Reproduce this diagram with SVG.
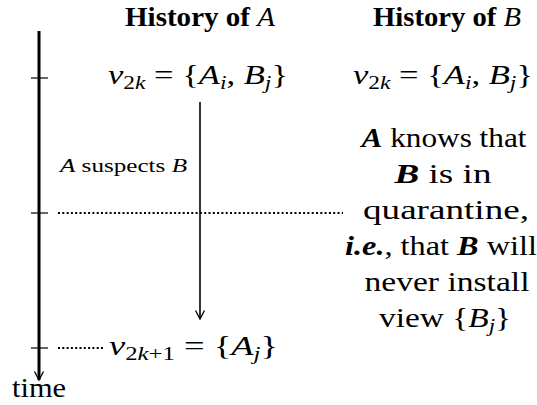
<svg xmlns="http://www.w3.org/2000/svg" width="537" height="405" viewBox="0 0 537 405">
<style>
text{font-family:"Liberation Serif","Times New Roman",serif;fill:#000}
.t{font-size:28px}
.h{font-size:27px;font-weight:bold}
.s{font-size:19px}
.i{font-style:italic}
.bi{font-style:italic;font-weight:bold}
.sm{font-size:18px}
.axis{stroke:#000;stroke-width:3;fill:none}
.tick{stroke:#000;stroke-width:1.2}
.arr{stroke:#000;stroke-width:1.6;fill:none}
.dot{stroke:#000;stroke-width:2;stroke-dasharray:2 2.3;fill:none}
</style>
<defs>
<marker id="open" markerWidth="12" markerHeight="12" refX="9" refY="5" orient="auto" markerUnits="userSpaceOnUse" viewBox="0 0 12 10">
<path d="M0.5,0.5 L9,5 L0.5,9.5" fill="none" stroke="#000" stroke-width="1.3"/>
</marker>
</defs>
<g id="headers">
<text class="h" x="200" y="26" text-anchor="middle" textLength="150" lengthAdjust="spacingAndGlyphs">History of <tspan class="i" font-weight="normal">A</tspan></text>
<text class="h" x="447" y="26" text-anchor="middle" textLength="148" lengthAdjust="spacingAndGlyphs">History of <tspan class="i" font-weight="normal">B</tspan></text>
</g>
<g id="timeline">
<line class="axis" x1="39" y1="31" x2="39" y2="380" marker-end="url(#open)"/>
<line class="tick" x1="31" y1="78" x2="48" y2="78"/>
<line class="tick" x1="31" y1="213" x2="48" y2="213"/>
<line class="tick" x1="31" y1="348" x2="48" y2="348"/>
<text class="t" x="12" y="397" textLength="54" lengthAdjust="spacingAndGlyphs">time</text>
</g>
<g id="nodeA1">
<text class="t" x="108" y="84" textLength="180" lengthAdjust="spacingAndGlyphs"><tspan class="i">v</tspan><tspan class="s" dy="5">2<tspan class="i">k</tspan></tspan><tspan dy="-5"> = {</tspan><tspan class="i">A</tspan><tspan class="s i" dy="5">i</tspan><tspan dy="-5">, </tspan><tspan class="i">B</tspan><tspan class="s i" dy="5">j</tspan><tspan dy="-5">}</tspan></text>
</g>
<g id="nodeB1">
<text class="t" x="353" y="84" textLength="180" lengthAdjust="spacingAndGlyphs"><tspan class="i">v</tspan><tspan class="s" dy="5">2<tspan class="i">k</tspan></tspan><tspan dy="-5"> = {</tspan><tspan class="i">A</tspan><tspan class="s i" dy="5">i</tspan><tspan dy="-5">, </tspan><tspan class="i">B</tspan><tspan class="s i" dy="5">j</tspan><tspan dy="-5">}</tspan></text>
</g>
<g id="nodeA2">
<text class="t" x="109" y="355" textLength="169" lengthAdjust="spacingAndGlyphs"><tspan class="i">v</tspan><tspan class="s" dy="5">2<tspan class="i">k</tspan>+1</tspan><tspan dy="-5"> = {</tspan><tspan class="i">A</tspan><tspan class="s i" dy="5">j</tspan><tspan dy="-5">}</tspan></text>
</g>
<g id="suspect-label">
<text class="sm" x="60" y="172" textLength="127" lengthAdjust="spacingAndGlyphs"><tspan class="i">A</tspan>  suspects  <tspan class="i">B</tspan></text>
</g>
<g id="knowledge">
<text class="t" text-anchor="middle" x="444" y="147" textLength="165" lengthAdjust="spacingAndGlyphs"><tspan class="bi">A</tspan> knows that</text>
<text class="t" text-anchor="middle" x="443" y="183" textLength="97" lengthAdjust="spacingAndGlyphs"><tspan class="bi">B</tspan> is in</text>
<text class="t" text-anchor="middle" x="446" y="219" textLength="166" lengthAdjust="spacingAndGlyphs">quarantine,</text>
<text class="t" text-anchor="middle" x="441" y="255" textLength="192" lengthAdjust="spacingAndGlyphs"><tspan class="bi">i.e.</tspan>, that <tspan class="bi">B</tspan> will</text>
<text class="t" text-anchor="middle" x="447" y="291" textLength="165" lengthAdjust="spacingAndGlyphs">never install</text>
<text class="t" text-anchor="middle" x="445" y="327" textLength="132" lengthAdjust="spacingAndGlyphs">view {<tspan class="i">B</tspan><tspan class="s i" dy="5">j</tspan><tspan dy="-5">}</tspan></text>
</g>
<g id="connectors">
<line class="arr" x1="200" y1="102" x2="200" y2="319" marker-end="url(#open)"/>
<line class="dot" x1="58" y1="213" x2="343" y2="213"/>
<line class="dot" x1="58" y1="348" x2="105" y2="348"/>
</g>
</svg>
